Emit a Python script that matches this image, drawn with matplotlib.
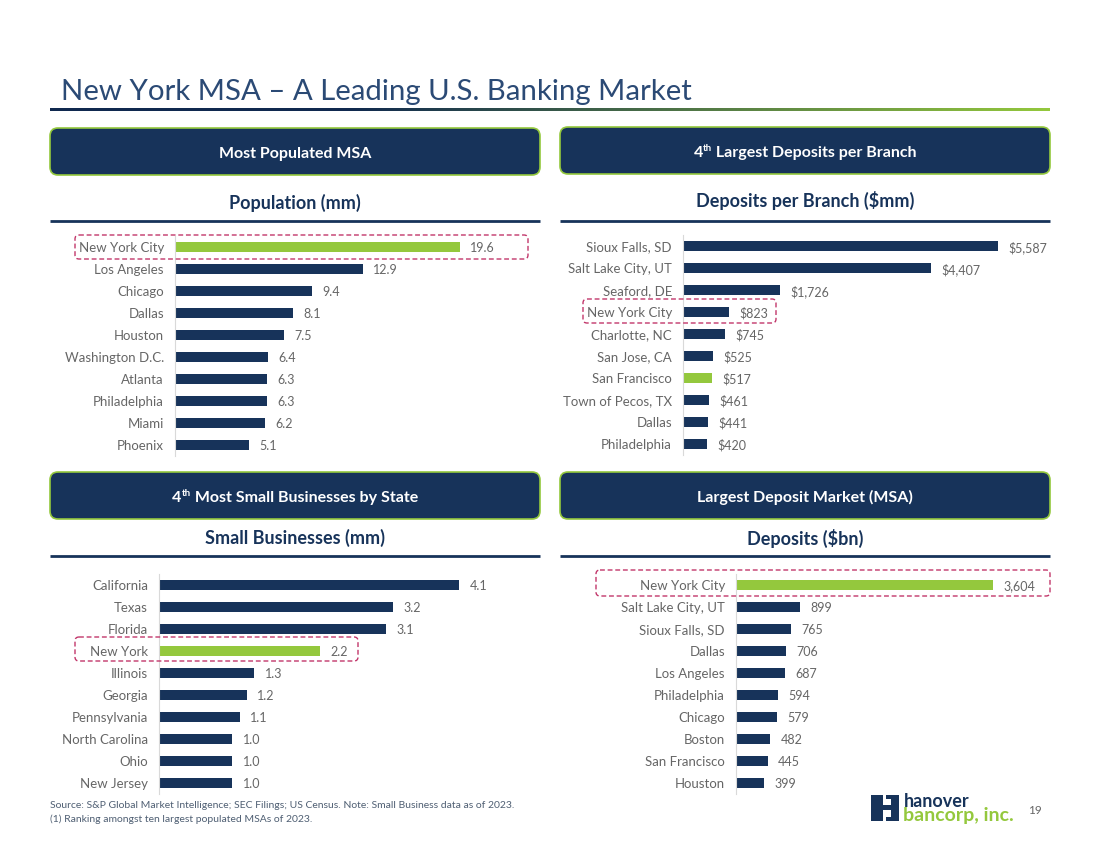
import numpy as np
import matplotlib
matplotlib.use('Agg')
import matplotlib.pyplot as plt
from matplotlib.colors import LinearSegmentedColormap
from matplotlib.patches import FancyBboxPatch, Rectangle

plt.rcParams['font.family'] = ['Lato', 'DejaVu Sans']

NAVY = '#17335A'
GREEN = '#94C83D'
GREY = '#666666'
PINK = '#C2376B'

# chart data
pop_names = ['New York City', 'Los Angeles', 'Chicago', 'Dallas', 'Houston',
             'Washington D.C.', 'Atlanta', 'Philadelphia', 'Miami', 'Phoenix']
pop_vals = [19.6, 12.9, 9.4, 8.1, 7.5, 6.4, 6.3, 6.3, 6.2, 5.1]

branch_names = ['Sioux Falls, SD', 'Salt Lake City, UT', 'Seaford, DE', 'New York City',
                'Charlotte, NC', 'San Jose, CA', 'San Francisco', 'Town of Pecos, TX',
                'Dallas', 'Philadelphia']
branch_vals = [5587, 4407, 1726, 823, 745, 525, 517, 461, 441, 420]

small_names = ['California', 'Texas', 'Florida', 'New York', 'Illinois', 'Georgia',
               'Pennsylvania', 'North Carolina', 'Ohio', 'New Jersey']
small_vals = [4.1, 3.2, 3.1, 2.2, 1.3, 1.2, 1.1, 1.0, 1.0, 1.0]

dep_names = ['New York City', 'Salt Lake City, UT', 'Sioux Falls, SD', 'Dallas',
             'Los Angeles', 'Philadelphia', 'Chicago', 'Boston', 'San Francisco', 'Houston']
dep_vals = [3604, 899, 765, 706, 687, 594, 579, 482, 445, 399]

W, H = 1100, 849
fig = plt.figure(figsize=(11, 8.49), dpi=100, facecolor='white')

# overlay in pixel coordinates for the slide furniture
bg = fig.add_axes([0, 0, 1, 1], zorder=3)
bg.set_xlim(0, W)
bg.set_ylim(H, 0)
bg.axis('off')
bg.patch.set_alpha(0)


def chart(names, vals, left, right, top, bottom, px_per_unit, fmt, hi):
    ax = fig.add_axes([left / W, 1 - bottom / H, (right - left) / W, (bottom - top) / H])
    colors = [GREEN if n == hi else NAVY for n in names]
    y = np.arange(len(names))
    ax.barh(y, vals, height=0.42, color=colors)
    ax.set_ylim(len(names) - 0.5, -0.5)
    ax.set_xlim(0, (right - left) / px_per_unit)
    ax.set_yticks(y, names, fontsize=9.5, color=GREY)
    ax.tick_params(axis='y', length=0, pad=8)
    ax.xaxis.set_visible(False)
    for s in ['top', 'right', 'bottom']:
        ax.spines[s].set_visible(False)
    ax.spines['left'].set_color('#D9D9D9')
    ax.patch.set_alpha(0)
    for i, v in enumerate(vals):
        ax.annotate(fmt.format(v), (v, i), xytext=(7.5, -1), textcoords='offset points',
                    va='center', ha='left', fontsize=9, color=GREY)


def banner(x0, x1, y0, y1, label, sup=None, rest=''):
    bg.add_patch(FancyBboxPatch((x0 + 6, y0 + 6), x1 - x0 - 12, y1 - y0 - 12,
                                boxstyle='round,pad=6,rounding_size=8', fc=NAVY, ec=GREEN, lw=1.2))
    cx = (x0 + x1) / 2
    cy = (y0 + y1) / 2 + 2
    if sup is None:
        bg.text(cx, cy, label, color='white', fontsize=11.5, fontweight='bold', ha='center', va='center')
        return
    # superscript in the middle of the label, so measure the three pieces
    r = fig.canvas.get_renderer()
    parts = [bg.text(0, cy, label, color='white', fontsize=11.5, fontweight='bold', va='center'),
             bg.text(0, cy - 4, sup, color='white', fontsize=7, fontweight='bold', va='center'),
             bg.text(0, cy, ' ' + rest, color='white', fontsize=11.5, fontweight='bold', va='center')]
    widths = [p.get_window_extent(r).width for p in parts]
    x = cx - sum(widths) / 2
    for p, w in zip(parts, widths):
        p.set_x(x)
        x += w


def subtitle(x0, x1, y_text, y_line, label):
    bg.text((x0 + x1) / 2, y_text, label, color=NAVY, fontsize=13, fontweight='bold', ha='center', va='center')
    bg.plot([x0, x1], [y_line, y_line], color=NAVY, lw=2, solid_capstyle='butt')


def dashed(x0, x1, y0, y1):
    bg.add_patch(FancyBboxPatch((x0 + 4, y0 + 4), x1 - x0 - 8, y1 - y0 - 8,
                                boxstyle='round,pad=4,rounding_size=4', fc='none', ec=PINK, lw=1, ls=(0, (3.5, 2))))


chart(pop_names, pop_vals, 175, 540, 236, 456, 14.54, '{:.1f}', 'New York City')
chart(branch_names, branch_vals, 683, 1050, 235, 455, 0.05638, '${:,}', 'San Francisco')
chart(small_names, small_vals, 159, 540, 574, 794, 73.2, '{:.1f}', 'New York')
chart(dep_names, dep_vals, 736, 1050, 574, 794, 0.0713, '{:,}', 'New York City')

# title and gradient rule
bg.text(61, 100, 'New York MSA \u2013 A Leading U.S. Banking Market', color='#2B4A75', fontsize=21.2, va='baseline')
cmap = LinearSegmentedColormap.from_list('rule', [(0, '#10294F'), (0.3, '#10294F'), (1, GREEN)])
bg.imshow(np.linspace(0, 1, 256).reshape(1, -1), cmap=cmap, extent=(50, 1050, 110.5, 107.5), aspect='auto')
bg.set_xlim(0, W)
bg.set_ylim(H, 0)

banner(50, 540, 128, 175, 'Most Populated MSA')
banner(560, 1050, 127, 174, '4', 'th', 'Largest Deposits per Branch')
banner(50, 540, 472, 519, '4', 'th', 'Most Small Businesses by State')
banner(560, 1050, 472, 519, 'Largest Deposit Market (MSA)')

subtitle(50, 540, 203, 220.5, 'Population (mm)')
subtitle(560, 1050, 200, 220.5, 'Deposits per Branch ($mm)')
subtitle(50, 540, 538, 556, 'Small Businesses (mm)')
subtitle(560, 1050, 538, 556, 'Deposits ($bn)')

dashed(75, 528, 235, 259)
dashed(583, 776, 299, 323)
dashed(75, 358, 637, 661)
dashed(596, 1050, 570, 596)

# footer
bg.text(50, 806, 'Source: S&P Global Market Intelligence; SEC Filings; US Census. Note: Small Business data as of 2023.',
        color='#4F5F73', fontsize=7.5, va='center')
bg.text(50, 819, '(1) Ranking amongst ten largest populated MSAs of 2023.', color='#4F5F73', fontsize=7.5, va='center')
bg.text(1035, 810, '19', color=GREY, fontsize=8.5, ha='center', va='center')

# logo mark
bg.add_patch(Rectangle((871, 795), 12, 26, fc=NAVY, ec='none'))
bg.add_patch(Rectangle((883, 805), 8, 5, fc=NAVY, ec='none'))
bg.add_patch(Rectangle((886, 795), 13, 4, fc=NAVY, ec='none'))
bg.add_patch(Rectangle((886, 817), 13, 4, fc=NAVY, ec='none'))
bg.add_patch(Rectangle((891, 795), 8, 26, fc=NAVY, ec='none'))
bg.text(904, 807, 'hanover', color=NAVY, fontsize=13, fontweight='bold', va='baseline')
bg.text(903, 820.5, 'bancorp, inc.', color=GREEN, fontsize=14, fontweight='bold', va='baseline')

fig.savefig('out.png', dpi=100)
